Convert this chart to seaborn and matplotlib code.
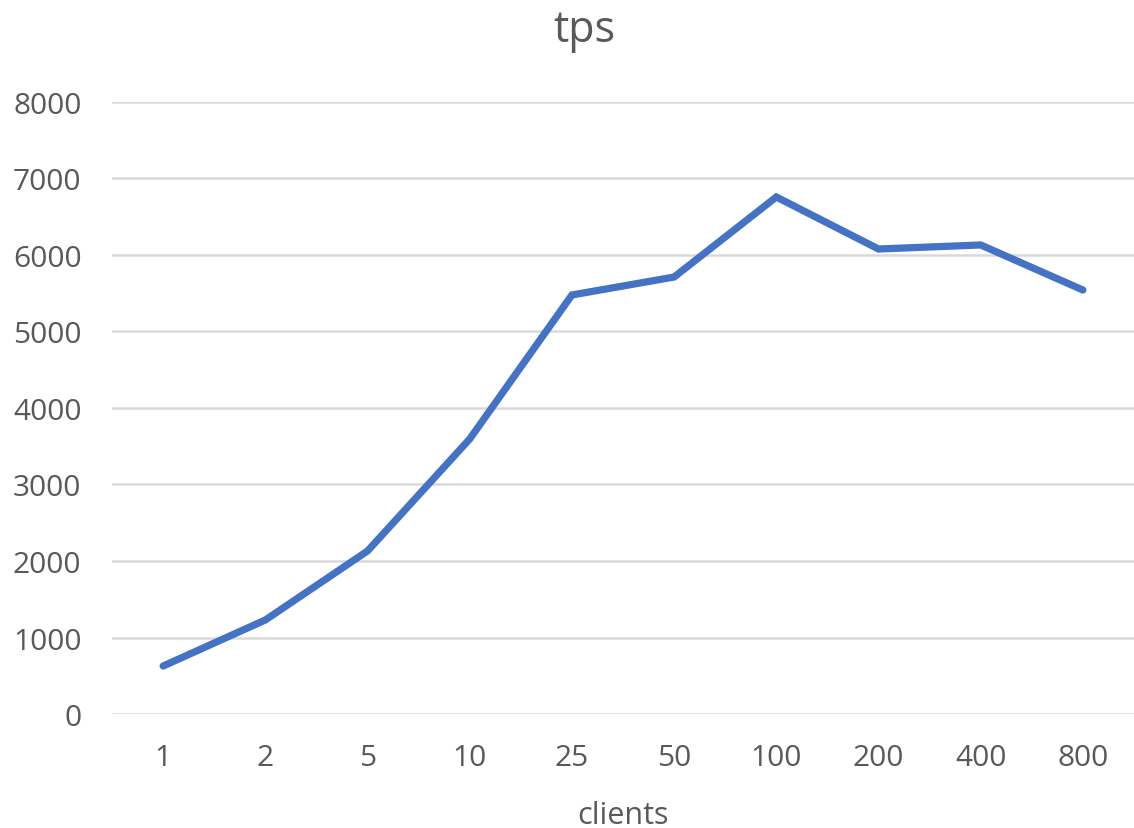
import matplotlib
matplotlib.use("Agg")
import matplotlib.pyplot as plt
import seaborn as sns
import pandas as pd

clients = ["1", "2", "5", "10", "25", "50", "100", "200", "400", "800"]
tps = [627, 1229, 2131, 3595, 5477, 5712, 6758, 6078, 6131, 5542]
yticks = [0, 1000, 2000, 3000, 4000, 5000, 6000, 7000, 8000]

sns.set_theme(style="white")
plt.rcParams['font.family'] = ['Open Sans', 'DejaVu Sans']

df = pd.DataFrame({"clients": clients, "tps": tps})

fig = plt.figure(figsize=(11.34, 8.29), dpi=100)
ax = fig.add_axes([0.0988, 0.1375, 0.9012, 0.7383])

sns.lineplot(data=df, x="clients", y="tps", ax=ax, color="#4472C4",
             linewidth=5.2, sort=False, solid_joinstyle="miter")

ax.set_ylim(0, 8000)
ax.set_xlim(-0.5, len(clients) - 0.5)
ax.set_yticks(yticks)
ax.set_yticklabels([str(v) for v in yticks])
ax.yaxis.grid(True, color="#D9D9D9", linewidth=1.8)
ax.xaxis.grid(False)
ax.set_axisbelow(True)
for s in ax.spines.values():
    s.set_visible(False)
ax.tick_params(axis="both", length=0, colors="#595959", labelsize=21.5)
ax.tick_params(axis="y", pad=22)
ax.tick_params(axis="x", pad=21)
ax.set_ylabel("")
ax.set_xlabel("clients", color="#595959", fontsize=22, labelpad=20)
fig.suptitle("tps", color="#595959", fontsize=31, x=0.515, y=0.99)

fig.savefig("out.png", dpi=100)
